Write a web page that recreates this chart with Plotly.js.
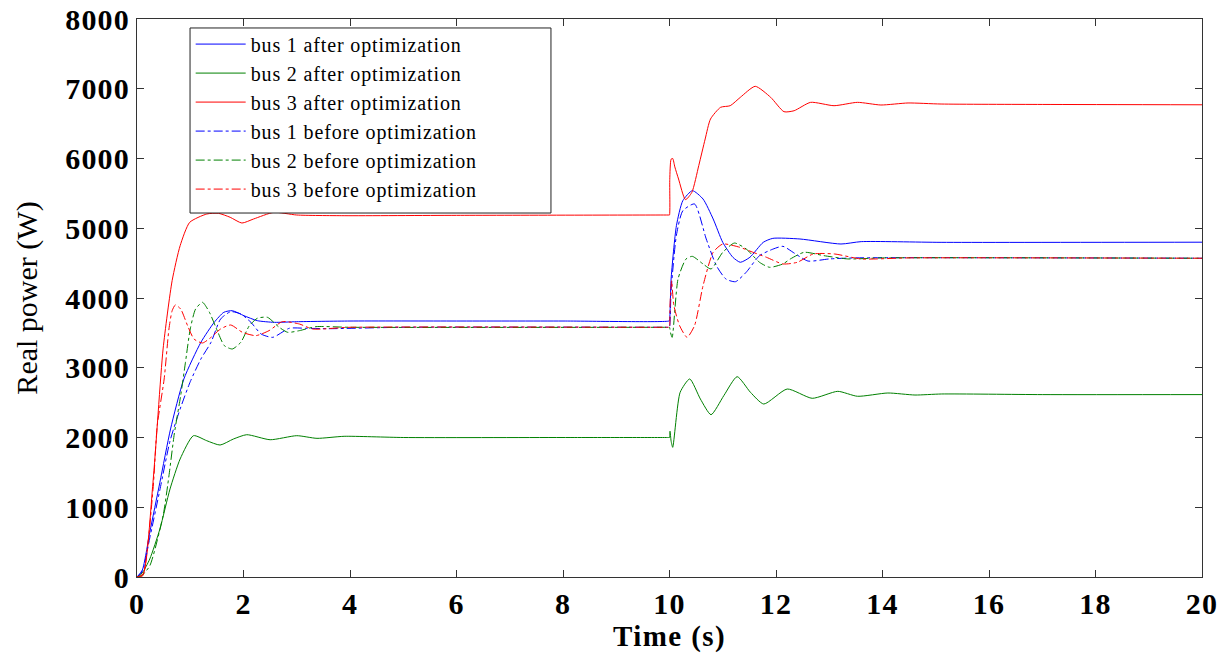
<!DOCTYPE html>
<html>
<head>
<meta charset="utf-8">
<script src="https://cdn.plot.ly/plotly-3.0.1.min.js"></script>
<style>
html,body{margin:0;padding:0;background:#fff;}
#chart{width:1227px;height:654px;}
.legendtext{letter-spacing:0.85px;}
.xtick text,.ytick text{letter-spacing:1.2px;}
.xtitle{letter-spacing:1.4px;}
</style>
</head>
<body>
<div id="chart"></div>
<script>
// ---- data ----
const bus1AfterT = [0, 0.1, 0.24, 0.43, 0.63, 0.88, 1.2, 1.45, 1.63, 1.79, 2.01, 2.26, 2.58, 3.0, 4, 6, 8, 9.99,
  10.0, 10.03, 10.13, 10.25, 10.43, 10.63, 10.82, 11.0, 11.19, 11.33, 11.51, 11.76, 11.94, 12.45, 13.22, 13.6, 15.1, 20];
const bus1AfterP = [0, 100, 640, 1358, 2122, 2839, 3365, 3651, 3795, 3818, 3746, 3675, 3651, 3660, 3670, 3670, 3670, 3670,
  3680, 4272, 5037, 5395, 5539, 5419, 5133, 4798, 4584, 4512, 4584, 4798, 4855, 4846, 4774, 4808, 4798, 4800];

const bus2AfterT = [0, 0.1, 0.24, 0.43, 0.62, 0.81, 1.06, 1.31, 1.56, 1.81, 2.06, 2.5, 3.0, 3.38, 3.89, 5, 8, 9.99,
  10.0, 10.01, 10.03, 10.06, 10.2, 10.38, 10.58, 10.78, 11.02, 11.27, 11.52, 11.77, 12.21, 12.68, 13.16, 13.53, 14.1, 14.61, 15.11, 17, 20];
const bus2AfterP = [0, 60, 258, 688, 1262, 1692, 2026, 1954, 1892, 1978, 2040, 1968, 2026, 1988, 2017, 2000, 2000, 2000,
  2000, 2090, 1950, 1859, 2648, 2839, 2552, 2327, 2600, 2872, 2648, 2480, 2695, 2562, 2662, 2591, 2638, 2609, 2624, 2615, 2615];

const bus3AfterT = [0, 0.11, 0.3, 0.49, 0.66, 0.81, 0.99, 1.31, 1.53, 1.75, 1.97, 2.19, 2.57, 3.0, 3.89, 6, 9.99,
  10.0, 10.005, 10.03, 10.06, 10.1, 10.17, 10.3, 10.42, 10.55, 10.67, 10.77, 10.96, 11.14, 11.33, 11.61, 11.9, 12.15, 12.34, 12.65, 13.09, 13.53, 13.97, 14.48, 15.1, 17, 20];
const bus3AfterP = [0, 19, 1358, 3269, 4250, 4750, 5085, 5204, 5214, 5157, 5075, 5133, 5228, 5190, 5180, 5185, 5190,
  5190, 5700, 5990, 6000, 5880, 5706, 5410, 5515, 5900, 6280, 6566, 6734, 6757, 6877, 7035, 6877, 6671, 6685, 6805, 6757, 6805, 6767, 6796, 6781, 6775, 6770];

const bus1BeforeT = [0, 0.1, 0.24, 0.43, 0.62, 0.81, 1.0, 1.2, 1.39, 1.57, 1.76, 1.95, 2.14, 2.33, 2.55, 2.86, 3.17, 3.6, 5, 9.99,
  10.0, 10.03, 10.13, 10.25, 10.47, 10.69, 10.88, 11.06, 11.24, 11.44, 11.69, 11.94, 12.13, 12.35, 12.6, 13.0, 13.5, 20];
const bus1BeforeP = [0, 80, 560, 1250, 1950, 2409, 2800, 3126, 3365, 3699, 3804, 3771, 3651, 3484, 3436, 3566, 3566, 3560, 3580, 3580,
  3580, 4100, 4900, 5250, 5348, 4846, 4464, 4272, 4234, 4369, 4607, 4700, 4741, 4640, 4530, 4560, 4575, 4570];

const bus2BeforeT = [0, 0.1, 0.24, 0.49, 0.6, 0.7, 0.82, 0.91, 1.0, 1.1, 1.23, 1.36, 1.52, 1.64, 1.79, 1.95, 2.11, 2.26, 2.45, 2.67, 2.83, 3.05, 3.36, 4, 9.99,
  10.0, 10.02, 10.05, 10.16, 10.31, 10.43, 10.63, 10.78, 11.0, 11.22, 11.44, 11.69, 11.88, 12.13, 12.27, 12.53, 12.9, 13.35, 14, 20];
const bus2BeforeP = [0, 30, 160, 880, 1450, 2050, 2600, 3078, 3556, 3842, 3938, 3795, 3508, 3317, 3269, 3365, 3603, 3709, 3723, 3580, 3508, 3532, 3589, 3580, 3580,
  3580, 3500, 3436, 4272, 4559, 4597, 4488, 4416, 4655, 4788, 4703, 4512, 4440, 4488, 4560, 4655, 4607, 4560, 4575, 4570];

const bus3BeforeT = [0, 0.11, 0.3, 0.38, 0.51, 0.6, 0.66, 0.72, 0.82, 0.95, 1.07, 1.23, 1.39, 1.57, 1.76, 1.98, 2.23, 2.48, 2.73, 3.05, 3.3, 4, 9.99,
  10.0, 10.01, 10.04, 10.08, 10.19, 10.33, 10.47, 10.63, 10.82, 11.0, 11.32, 11.57, 11.82, 12.13, 12.4, 12.7, 13.1, 13.6, 14.5, 20];
const bus3BeforeP = [0, 40, 1250, 2170, 2839, 3556, 3818, 3900, 3842, 3603, 3412, 3355, 3436, 3556, 3613, 3508, 3460, 3532, 3661, 3627, 3556, 3580, 3580,
  3580, 3900, 4250, 3900, 3603, 3436, 3603, 4177, 4655, 4774, 4727, 4655, 4584, 4488, 4512, 4631, 4631, 4560, 4575, 4570];

const seriesNames = ['bus 1 after optimization', 'bus 2 after optimization', 'bus 3 after optimization',
  'bus 1 before optimization', 'bus 2 before optimization', 'bus 3 before optimization'];
const xTickVals = [0, 2, 4, 6, 8, 10, 12, 14, 16, 18, 20];
const yTickVals = [0, 1000, 2000, 3000, 4000, 5000, 6000, 7000, 8000];

// ---- styling ----
const colors = ['#0000ff', '#008000', '#ff0000', '#0000ff', '#008000', '#ff0000'];
const dashes = ['solid', 'solid', 'solid', 'dashdot', 'dashdot', 'dashdot'];
const xs = [bus1AfterT, bus2AfterT, bus3AfterT, bus1BeforeT, bus2BeforeT, bus3BeforeT];
const ys = [bus1AfterP, bus2AfterP, bus3AfterP, bus1BeforeP, bus2BeforeP, bus3BeforeP];

const traces = seriesNames.map((n, i) => ({
  x: xs[i], y: ys[i], name: n, type: 'scatter', mode: 'lines',
  line: {color: colors[i], width: 1, dash: dashes[i], shape: 'spline', smoothing: 0.6}
}));

const serif = 'Liberation Serif, Times New Roman, serif';
const layout = {
  width: 1227, height: 654,
  margin: {l: 137, r: 25, t: 19, b: 77},
  paper_bgcolor: '#fff', plot_bgcolor: '#fff',
  showlegend: true,
  legend: {
    x: 0.0504, y: 0.99, xanchor: 'left', yanchor: 'top',
    bgcolor: 'rgba(0,0,0,0)', borderwidth: 0,
    font: {family: serif, size: 20, color: '#000'},
    itemwidth: 50, tracegroupgap: 0
  },
  shapes: [{
    type: 'rect', xref: 'paper', yref: 'paper', layer: 'above',
    x0: 0.0498, x1: 0.3887, y0: 0.6523, y1: 0.9839,
    line: {color: '#222', width: 1}, fillcolor: '#fff'
  }],
  xaxis: {
    range: [0, 20], tickvals: xTickVals, ticktext: xTickVals.map(String),
    showgrid: false, zeroline: false, showline: true, mirror: 'ticks', linecolor: '#333', linewidth: 1,
    ticks: 'inside', ticklen: 7, tickcolor: '#333',
    tickfont: {family: serif, size: 30, color: '#000', weight: 'bold'},
    title: {text: 'Time (s)', font: {family: serif, size: 29, color: '#000', weight: 'bold'}, standoff: 0}
  },
  yaxis: {
    range: [0, 8000], tickvals: yTickVals, ticktext: yTickVals.map(String),
    showgrid: false, zeroline: false, showline: true, mirror: 'ticks', linecolor: '#333', linewidth: 1,
    ticks: 'inside', ticklen: 7, tickcolor: '#333',
    tickfont: {family: serif, size: 30, color: '#000', weight: 'bold'},
    title: {text: 'Real power (W)', font: {family: serif, size: 30, color: '#000'}, standoff: 18}
  }
};

Plotly.newPlot('chart', traces, layout, {staticPlot: true, displayModeBar: false});
</script>
</body>
</html>
